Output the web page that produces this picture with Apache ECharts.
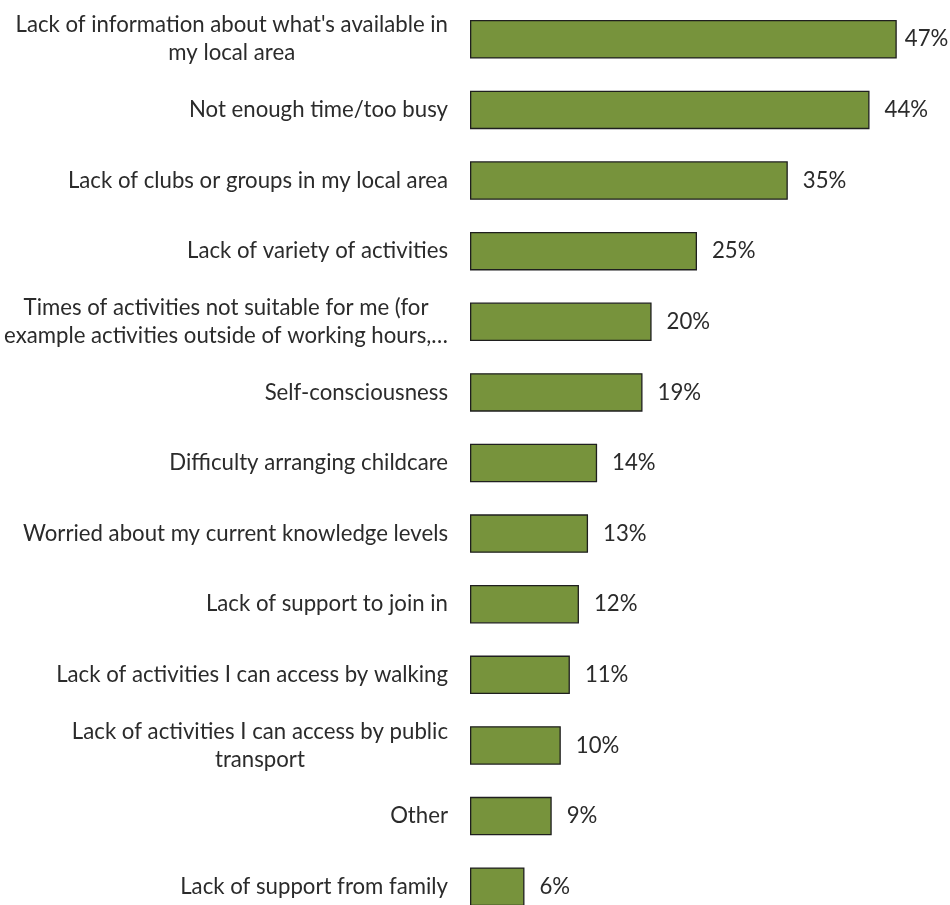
<!DOCTYPE html>
<html>
<head>
<meta charset="utf-8">
<title>Barriers to taking part</title>
<script src="https://cdn.jsdelivr.net/npm/echarts@6/dist/echarts.min.js"></script>
<style>
  html, body { margin: 0; padding: 0; background: #ffffff; }
  #chart { width: 950px; height: 905px; }
</style>
</head>
<body>
<div id="chart"></div>
<script>
// Reasons given, top to bottom
const categories = [
  "Lack of information about what's available in\nmy local area",
  "Not enough time/too busy",
  "Lack of clubs or groups in my local area",
  "Lack of variety of activities",
  "Times of activities not suitable for me (for\nexample activities outside of working hours,…",
  "Self-consciousness",
  "Difficulty arranging childcare",
  "Worried about my current knowledge levels",
  "Lack of support to join in",
  "Lack of activities I can access by walking",
  "Lack of activities I can access by public\ntransport",
  "Other",
  "Lack of support from family"
];

// Share of respondents (%)
const percentages = [47, 44, 35, 25, 20, 19, 14, 13, 12, 11, 10, 9, 6];

const FONT = 'Lato';
const TEXT = '#2b2b2b';
const SIZE = 22.2;

const chart = echarts.init(document.getElementById('chart'), null, { renderer: 'canvas' });

// Multi-line labels: each line centred within its block, block right-aligned to the axis
const centreLines = (s) => s.split('\n').map(l => '{c|' + l + '}').join('\n');

const barData = percentages.map((v, i) => {
  const item = { value: v };
  // the longest bar sits close to the edge, so its label is tucked in
  if (i === 0) item.label = { distance: 8 };
  return item;
});

chart.setOption({
  animation: false,
  backgroundColor: '#ffffff',
  grid: {
    left: 470, right: 26, top: 4, bottom: -17,
    containLabel: false,
    outerBoundsMode: 'none'
  },
  xAxis: {
    type: 'value',
    min: 0,
    max: 50,
    show: false,
    splitLine: { show: false }
  },
  yAxis: {
    type: 'category',
    inverse: true,
    data: categories,
    axisLine: { show: false },
    axisTick: { show: false },
    axisLabel: {
      margin: 22,
      color: TEXT,
      fontFamily: FONT,
      fontSize: SIZE,
      lineHeight: 28,
      align: 'right',
      formatter: centreLines,
      rich: {
        c: { align: 'center', color: TEXT, fontFamily: FONT, fontSize: SIZE, lineHeight: 28 }
      }
    }
  },
  series: [{
    type: 'bar',
    data: barData,
    barWidth: '54.5%',
    itemStyle: {
      color: '#77933C',
      borderColor: '#1f1f1f',
      borderWidth: 1.3
    },
    label: {
      show: true,
      position: 'right',
      distance: 15,
      color: TEXT,
      fontFamily: FONT,
      fontSize: SIZE,
      formatter: (p) => p.value + '%'
    }
  }]
});
</script>
</body>
</html>
